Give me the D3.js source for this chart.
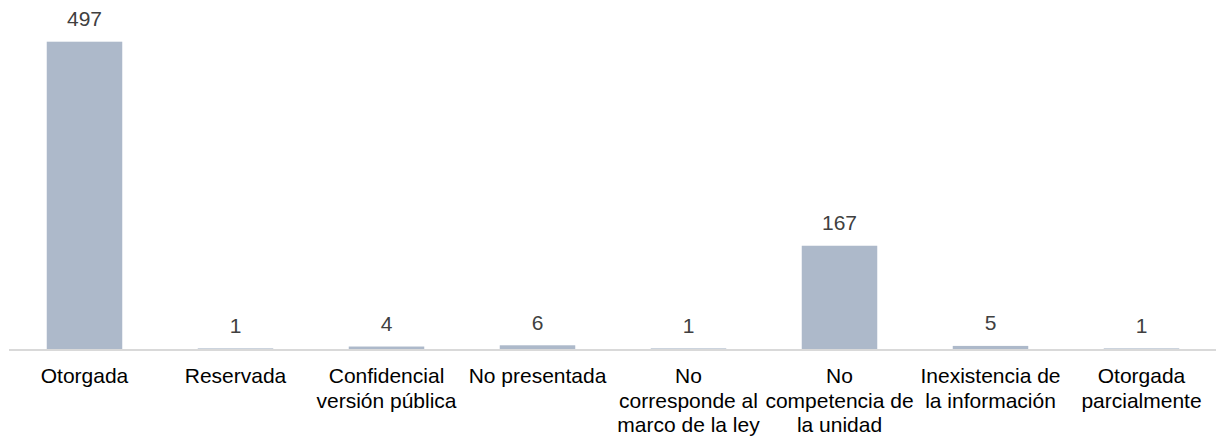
<!DOCTYPE html>
<html>
<head>
<meta charset="utf-8">
<script src="https://cdn.jsdelivr.net/npm/d3@7"></script>
<style>
    body { margin: 0; background: #ffffff; }
    svg { display: block; font-family: "Liberation Sans", Arial, sans-serif; }
</style>
</head>
<body>
<script>
"use strict";

// Data:
var categories = [
    "Otorgada",
    "Reservada",
    "Confidencial\nversión pública",
    "No presentada",
    "No\ncorresponde al\nmarco de la ley",
    "No\ncompetencia de\nla unidad",
    "Inexistencia de\nla información",
    "Otorgada\nparcialmente"
];
var values = [497, 1, 4, 6, 1, 167, 5, 1];

var width = 1216,
    height = 438;

var svg = d3.select("body").append("svg")
    .attr("width", width)
    .attr("height", height);

var x = d3.scaleBand()
    .domain(categories)
    .range([9, 1217])
    .paddingInner(0.5)
    .paddingOuter(0.25);

var y = d3.scaleLinear()
    .domain([0, 497])
    .range([349, 41.7]);

// bars
svg.append("g")
    .selectAll(".bar")
    .data(values)
    .enter()
    .append("rect")
    .attr("class", "bar")
    .attr("x", function (d, i) { return x(categories[i]); })
    .attr("y", function (d) { return y(d); })
    .attr("width", x.bandwidth())
    .attr("height", function (d) { return y(0) - y(d); })
    .attr("fill", "#adb9ca");

// axis line
svg.append("line")
    .attr("x1", 9)
    .attr("x2", 1216)
    .attr("y1", 350)
    .attr("y2", 350)
    .attr("stroke", "#d9d9d9")
    .attr("stroke-width", 2);

// value labels
svg.append("g")
    .selectAll(".value")
    .data(values)
    .enter()
    .append("text")
    .attr("class", "value")
    .attr("x", function (d, i) { return x(categories[i]) + x.bandwidth() / 2; })
    .attr("y", function (d) { return y(d) - 15.5; })
    .attr("text-anchor", "middle")
    .attr("font-size", "21px")
    .attr("fill", "#404040")
    .text(function (d) { return d; });

// category labels
var labels = svg.append("g")
    .selectAll(".cat")
    .data(categories)
    .enter()
    .append("text")
    .attr("class", "cat")
    .attr("text-anchor", "middle")
    .attr("font-size", "21px")
    .attr("fill", "#000000")
    .attr("transform", function (d) {
        return "translate(" + (x(d) + x.bandwidth() / 2) + ",383)";
    });

labels.selectAll("tspan")
    .data(function (d) { return d.split("\n"); })
    .enter()
    .append("tspan")
    .attr("x", 0)
    .attr("dy", function (d, i) { return i === 0 ? 0 : 24.5; })
    .text(function (d) { return d; });
</script>
</body>
</html>
